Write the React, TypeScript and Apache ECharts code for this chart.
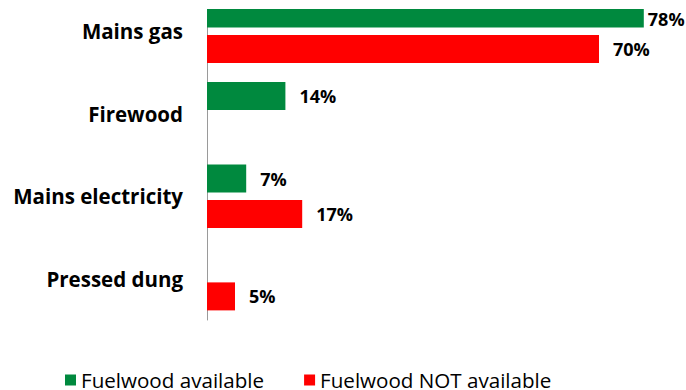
import React, { useEffect, useRef } from "react";
import * as echarts from "echarts";

const categories = ["Mains gas", "Firewood", "Mains electricity", "Pressed dung"];
const availableValues: (number | null)[] = [78, 14, 7, null];
const notAvailableValues: (number | null)[] = [70, null, 17, 5];
const seriesNames = ["Fuelwood available", "Fuelwood NOT available"];

const GREEN = "#00893E";
const RED = "#FF0000";
const FONT = "'Open Sans', 'Noto Sans', sans-serif";

// The chart box starts 10px above the page so the top band sits partly off-canvas.
const OFFSET = 10;

export default function App() {
  const ref = useRef<HTMLDivElement>(null);

  useEffect(() => {
    if (!ref.current) return;
    const chart = echarts.init(ref.current, null, { renderer: "svg" });

    const label = {
      show: true,
      position: "right" as const,
      distance: 14,
      formatter: "{c}%",
      color: "#000",
      fontFamily: FONT,
      fontWeight: "bold" as const,
      fontSize: 18,
    };

    // The longest bar's label sits closer to the bar and is centred on its visible part.
    const toData = (vals: (number | null)[]) =>
      vals.map((v) =>
        v === null
          ? "-"
          : v >= 75
          ? { value: v, label: { distance: 4, offset: [0, 5] } }
          : v
      );

    chart.setOption({
      animation: false,
      backgroundColor: "#fff",
      grid: { left: 207, right: 31, top: 0, bottom: 70, containLabel: false },
      xAxis: {
        type: "value",
        min: 0,
        max: 80,
        show: false,
      },
      yAxis: {
        type: "category",
        data: categories,
        inverse: true,
        axisLine: { show: true, lineStyle: { color: "#9a9a9a", width: 1 } },
        axisTick: { show: false },
        axisLabel: {
          margin: 24,
          color: "#000",
          fontFamily: FONT,
          fontWeight: "bold",
          fontSize: 20.5,
        },
      },
      legend: {
        left: 65,
        top: 369.5 + OFFSET,
        padding: 0,
        itemWidth: 11,
        itemHeight: 11,
        itemGap: 40,
        icon: "rect",
        textStyle: {
          fontFamily: FONT,
          fontSize: 20.6,
          lineHeight: 14,
          padding: [0, 0, 6, 0],
          color: "#000",
        },
        data: seriesNames,
      },
      series: [
        {
          name: seriesNames[0],
          type: "bar",
          data: toData(availableValues),
          barWidth: 28,
          barGap: "26%",
          itemStyle: { color: GREEN },
          label,
        },
        {
          name: seriesNames[1],
          type: "bar",
          data: toData(notAvailableValues),
          barWidth: 28,
          barGap: "26%",
          itemStyle: { color: RED },
          label,
        },
      ],
      graphic: [
        {
          // plot-area top edge: hides whatever lies above it
          type: "rect",
          left: 0,
          top: 0,
          shape: { width: 646, height: 9 + OFFSET },
          style: { fill: "#fff" },
          z: 100,
        },
      ],
    });

    return () => chart.dispose();
  }, []);

  return (
    <div
      ref={ref}
      style={{ position: "absolute", left: 0, top: -OFFSET, width: 686, height: 390 + OFFSET }}
    />
  );
}
